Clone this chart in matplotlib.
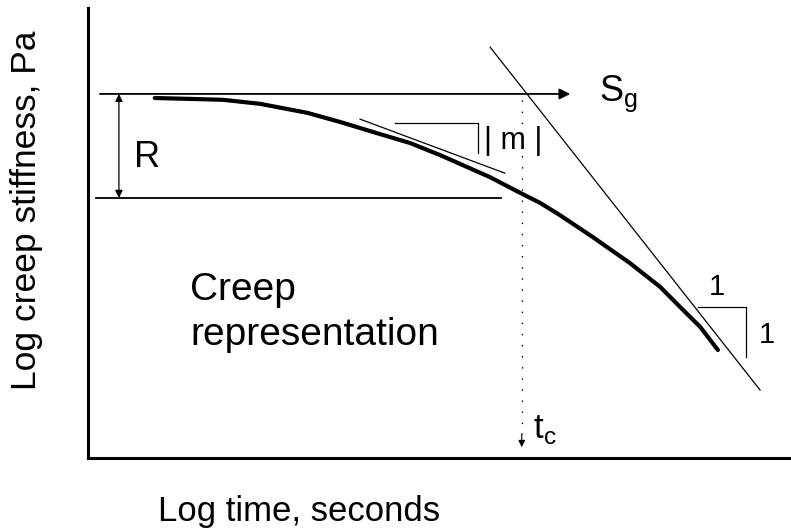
import matplotlib
matplotlib.use("Agg")
import matplotlib.pyplot as plt

plt.rcParams["font.family"] = ["Liberation Sans", "DejaVu Sans"]

# master curve: log time vs log creep stiffness (arbitrary log units)
log_time = [0.95, 1.45, 1.92, 2.45, 3.12, 3.58, 4.15, 4.58, 5.01, 5.72,
            6.15, 6.43, 6.71, 7.18, 7.71, 8.14, 8.42, 8.71, 8.96]
log_stiffness = [8.00, 7.98, 7.96, 7.87, 7.67, 7.47, 7.20, 7.00, 6.73, 6.24,
                 5.89, 5.67, 5.40, 4.91, 4.33, 3.80, 3.36, 2.91, 2.40]

# glassy modulus level and the lower level of the rheological index R
glassy_level = 8.09
lower_level = 5.78
glassy_x = [0.17, 6.86]
lower_x = [0.11, 5.88]
r_x = 0.44

# tangent with slope |m|, and its slope marker
tangent_x = [3.87, 5.93]
tangent_y = [7.53, 6.33]
m_marker_x = [4.37, 5.55, 5.55]
m_marker_y = [7.44, 7.44, 6.78]

# asymptote with slope -1 and its 1:1 marker
asym_x = [5.72, 9.56]
asym_y = [9.13, 1.51]
unit_marker_x = [8.68, 9.36, 9.36]
unit_marker_y = [3.36, 3.36, 2.24]

# crossover time t_c
tc_x = 6.17
tc_y = [7.96, 0.24]

fig = plt.figure(figsize=(7.91, 5.29), dpi=100)
ax = fig.add_axes([88 / 791, 71 / 529, 703 / 791, 450 / 529])
ax.set_xlim(0, 10)
ax.set_ylim(0, 10)

for side in ["top", "right"]:
    ax.spines[side].set_visible(False)
for side in ["left", "bottom"]:
    ax.spines[side].set_linewidth(2.2)
ax.set_xticks([])
ax.set_yticks([])

ax.plot(log_time, log_stiffness, color="black", lw=3.0, solid_capstyle="round",
        solid_joinstyle="round")

# glassy level arrow and lower level line
ax.annotate("", xy=(glassy_x[1], glassy_level), xytext=(glassy_x[0], glassy_level),
            arrowprops=dict(arrowstyle="-|>", lw=1.3, color="black", mutation_scale=16,
                            shrinkA=0, shrinkB=0))
ax.plot(lower_x, [lower_level, lower_level], color="black", lw=1.3)
ax.annotate("", xy=(r_x, lower_level), xytext=(r_x, glassy_level),
            arrowprops=dict(arrowstyle="<|-|>", lw=0.9, color="black", mutation_scale=11,
                            shrinkA=0, shrinkB=0))
ax.text(0.84, 6.67, "R", fontsize=26, ha="center", va="center")

ax.plot(tangent_x, tangent_y, color="black", lw=0.9)
ax.plot(m_marker_x, m_marker_y, color="black", lw=0.9)
ax.text(6.05, 7.05, "| m |", fontsize=22, ha="center", va="center")

ax.plot(asym_x, asym_y, color="black", lw=0.9)
ax.plot(unit_marker_x, unit_marker_y, color="black", lw=0.9)
ax.text(8.95, 3.80, "1", fontsize=21, ha="center", va="center")
ax.text(9.66, 2.73, "1", fontsize=21, ha="center", va="center")

ax.text(7.27, 8.09, r"S$_\mathregular{g}$", fontsize=26, ha="left", va="center")

ax.plot([tc_x, tc_x], [tc_y[0], tc_y[1] + 0.3], color="black", lw=1.0,
        linestyle=(0, (1, 7)))
ax.annotate("", xy=(tc_x, tc_y[1]), xytext=(tc_x, tc_y[1] + 0.3),
            arrowprops=dict(arrowstyle="-|>", lw=0.8, color="black", mutation_scale=10,
                            shrinkA=0, shrinkB=0))
ax.text(6.33, 0.44, r"t$_\mathregular{c}$", fontsize=25, ha="left", va="baseline")

ax.text(1.45, 3.51, "Creep", fontsize=28, ha="left", va="baseline")
ax.text(1.45, 2.51, "representation", fontsize=28, ha="left", va="baseline")

ax.set_xlabel("Log time, seconds", fontsize=25)
ax.xaxis.set_label_coords(0.30, -0.118)
ax.xaxis.label.set_va("center")
ax.set_ylabel("Log creep stiffness, Pa", fontsize=25.5)
ax.yaxis.set_label_coords(-0.088, 0.55)
ax.yaxis.label.set_va("center")

fig.savefig("out.png", dpi=100)
